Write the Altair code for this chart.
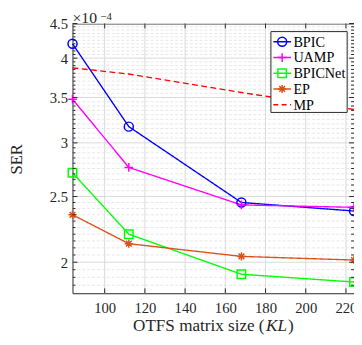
import altair as alt
import pandas as pd
import numpy as np

# ---- data (SER in units of 1e-4) ----
sizes = [84, 112, 168, 224]
series_names = ["BPIC", "UAMP", "BPICNet", "EP", "MP"]
bpic = [4.20, 3.17, 2.45, 2.38]
uamp = [3.48, 2.76, 2.43, 2.41]
bpicnet = [2.71, 2.20, 1.92, 1.87]
ep = [2.35, 2.13, 2.04, 2.015]
mp = [3.87, 3.79, 3.56, 3.36]
colors = ["#0000FF", "#FF00FF", "#00FF00", "#D95319", "#FF0000"]
x_ticks = [100, 120, 140, 160, 180, 200, 220]
y_ticks = [2, 2.5, 3, 3.5, 4, 4.5]

W, H = 288, 276
FONT = "Liberation Serif"
AX = "#262626"

values = {"BPIC": bpic, "UAMP": uamp, "BPICNet": bpicnet, "EP": ep, "MP": mp}
rows = []
for s in series_names:
    for x, v in zip(sizes, values[s]):
        rows.append({"series": s, "size": x, "ser": v})
df = pd.DataFrame(rows)

PLUS = "M-1,0L1,0M0,-1L0,1"
AST = "M-1,0L1,0M0,-1L0,1M-0.7,-0.7L0.7,0.7M-0.7,0.7L0.7,-0.7"
marker_series = ["BPIC", "UAMP", "BPICNet", "EP"]
shape_scale = alt.Scale(domain=marker_series, range=["circle", PLUS, "square", AST])
size_scale = alt.Scale(domain=marker_series, range=[85, 70, 45, 85])
color_scale = alt.Scale(domain=series_names, range=colors)

xscale = alt.Scale(domain=[84, 224], nice=False, zero=False)
yscale = alt.Scale(type="log", domain=[1.8, 4.5], nice=False)

xaxis = alt.Axis(values=x_ticks, grid=False, ticks=False, domain=False, title=None,
                 labelFont=FONT, labelFontSize=15, labelColor=AX, labelPadding=8)
yaxis = alt.Axis(values=y_ticks, grid=False, ticks=False, domain=False, title=None,
                 format="~g", labelFont=FONT, labelFontSize=15, labelColor=AX, labelPadding=5)


def X(field):
    return alt.X(field, scale=xscale, axis=xaxis)


def Y(field):
    return alt.Y(field, scale=yscale, axis=yaxis)


minor = [round(v, 2) for v in np.arange(1.85, 4.5, 0.05) if round(v, 2) not in y_ticks]

# ---- grid ----
ygrid_minor = alt.Chart(pd.DataFrame({"v": minor})).mark_rule(
    color="#E6E6E6", strokeWidth=1, strokeDash=[3, 2]
).encode(y=Y("v:Q"), x=alt.value(0), x2=alt.value(W))
ygrid = alt.Chart(pd.DataFrame({"v": y_ticks})).mark_rule(
    color="#D9D9D9", strokeWidth=1
).encode(y=Y("v:Q"), x=alt.value(0), x2=alt.value(W))
xgrid = alt.Chart(pd.DataFrame({"v": x_ticks})).mark_rule(
    color="#D9D9D9", strokeWidth=1
).encode(x=X("v:Q"), y=alt.value(0), y2=alt.value(H))

# ---- ticks (inward) ----
ytick_major = alt.Chart(pd.DataFrame({"v": y_ticks})).mark_rule(color=AX, strokeWidth=1).encode(
    y=Y("v:Q"), x=alt.value(0), x2=alt.value(5))
ytick_minor = alt.Chart(pd.DataFrame({"v": minor})).mark_rule(color=AX, strokeWidth=1).encode(
    y=Y("v:Q"), x=alt.value(0), x2=alt.value(3))
ytick_major_r = alt.Chart(pd.DataFrame({"v": y_ticks})).mark_rule(color=AX, strokeWidth=1).encode(
    y=Y("v:Q"), x=alt.value(W - 5), x2=alt.value(W))
ytick_minor_r = alt.Chart(pd.DataFrame({"v": minor})).mark_rule(color=AX, strokeWidth=1).encode(
    y=Y("v:Q"), x=alt.value(W - 3), x2=alt.value(W))
xtick_b = alt.Chart(pd.DataFrame({"v": x_ticks})).mark_rule(color=AX, strokeWidth=1).encode(
    x=X("v:Q"), y=alt.value(H - 5), y2=alt.value(H))
xtick_t = alt.Chart(pd.DataFrame({"v": x_ticks})).mark_rule(color=AX, strokeWidth=1).encode(
    x=X("v:Q"), y=alt.value(0), y2=alt.value(5))

# ---- data lines & markers ----
lines = alt.Chart(df).mark_line(strokeWidth=1.4).encode(
    x=X("size:Q"),
    y=Y("ser:Q"),
    color=alt.Color("series:N", scale=color_scale, legend=None),
    strokeDash=alt.condition(alt.datum.series == "MP", alt.value([6, 3.5]), alt.value([1, 0])),
    detail="series:N",
)
points = alt.Chart(df).transform_filter(alt.datum.series != "MP").mark_point(
    filled=False, strokeWidth=1.5, opacity=1
).encode(
    x=X("size:Q"),
    y=Y("ser:Q"),
    color=alt.Color("series:N", scale=color_scale, legend=None),
    shape=alt.Shape("series:N", scale=shape_scale, legend=None),
    size=alt.Size("series:N", scale=size_scale, legend=None),
)

# ---- manual legend ----
leg_df = pd.DataFrame({"series": series_names, "i": list(range(len(series_names)))})
leg_df["ly"] = 18.7 + leg_df["i"] * 16.1
leg_df["lx1"] = 205.5
leg_df["lx2"] = 223.5
leg_df["mx"] = 214.5
leg_df["tx"] = 226
leg_box = alt.Chart(pd.DataFrame({"a": [0]})).mark_rect(
    fill="white", stroke=AX, strokeWidth=1
).encode(x=alt.value(203), x2=alt.value(281), y=alt.value(8.3), y2=alt.value(91))
leg_lines = alt.Chart(leg_df).mark_rule(strokeWidth=1.5).encode(
    x=alt.X("lx1:Q", scale=None), x2="lx2:Q", y=alt.Y("ly:Q", scale=None),
    color=alt.Color("series:N", scale=color_scale, legend=None),
    strokeDash=alt.condition(alt.datum.series == "MP", alt.value([5, 3.5]), alt.value([1, 0])),
)
leg_pts = alt.Chart(leg_df).transform_filter(alt.datum.series != "MP").mark_point(
    filled=False, strokeWidth=1.5, opacity=1
).encode(
    x=alt.X("mx:Q", scale=None), y=alt.Y("ly:Q", scale=None),
    color=alt.Color("series:N", scale=color_scale, legend=None),
    shape=alt.Shape("series:N", scale=shape_scale, legend=None),
    size=alt.Size("series:N", scale=size_scale, legend=None),
)
leg_txt = alt.Chart(leg_df).mark_text(
    align="left", baseline="middle", font=FONT, fontSize=14.5, color="black", dy=1
).encode(x=alt.X("tx:Q", scale=None), y=alt.Y("ly:Q", scale=None), text="series:N")


# ---- titles / annotations ----
def txt(t, x, y, size, **kw):
    return alt.Chart(pd.DataFrame({"t": [t]})).mark_text(
        font=FONT, color=AX, fontSize=size, **kw
    ).encode(x=alt.value(x), y=alt.value(y), text="t:N")


title1 = txt("OTFS matrix size (", 196.5, 315, 17.5, align="right", baseline="alphabetic")
title2 = txt("KL", 198, 315, 17.5, align="left", baseline="alphabetic", fontStyle="italic")
title3 = txt(")", 220.5, 315, 17.5, align="left", baseline="alphabetic")
ytitle = txt("SER", -57, 139, 17, align="center", baseline="middle", angle=270)
mult1 = txt("×10", 0, -1, 16, align="left", baseline="alphabetic")
mult2 = txt("−4", 28.5, -3.5, 11, align="left", baseline="alphabetic")

chart = alt.layer(
    ygrid_minor, ygrid, xgrid,
    lines, points,
    ytick_minor, ytick_major, ytick_minor_r, ytick_major_r, xtick_b, xtick_t,
    leg_box, leg_lines, leg_pts, leg_txt,
    title1, title2, title3, ytitle, mult1, mult2,
).properties(
    width=W, height=H,
    autosize=alt.AutoSizeParams(type="none"),
    padding={"left": 66, "top": 12, "right": 0, "bottom": 45},
    background="white",
).configure_view(stroke=AX, strokeWidth=1)

chart.save("out.html", embed_options={"renderer": "svg", "actions": False})
